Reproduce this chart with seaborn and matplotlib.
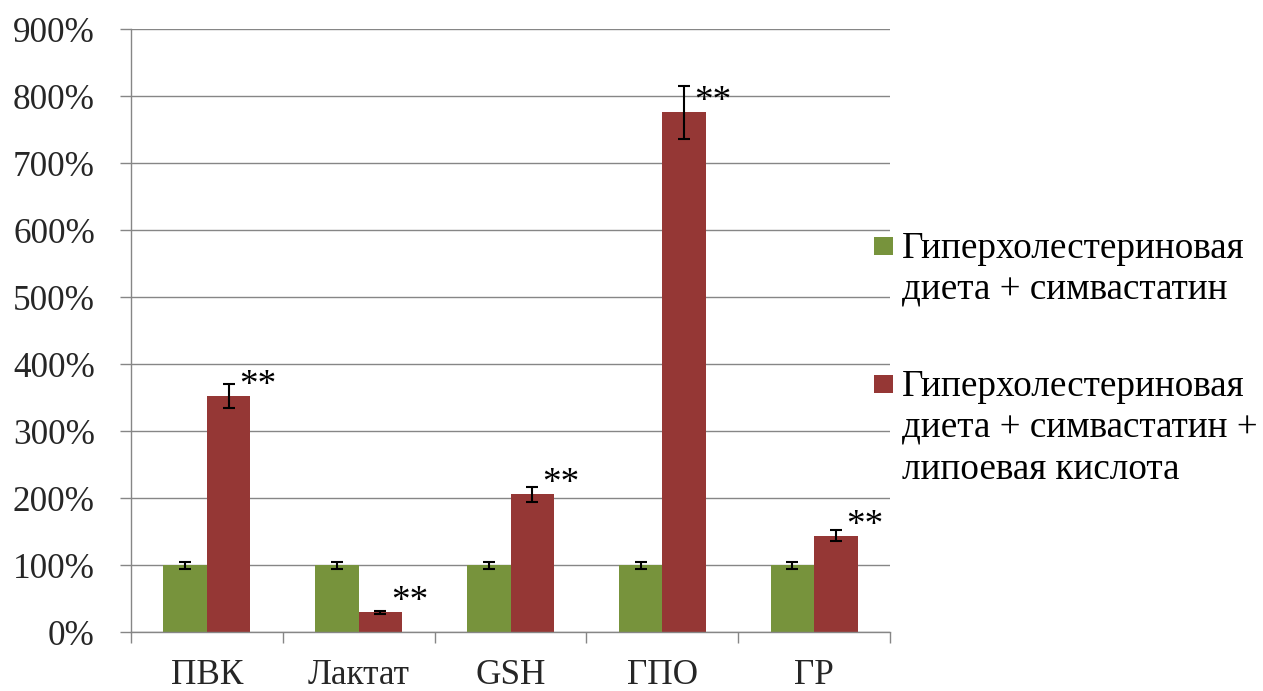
import matplotlib
matplotlib.use("Agg")
import matplotlib.pyplot as plt
from matplotlib.container import BarContainer
from matplotlib.patches import Rectangle
from matplotlib.ticker import FixedLocator, MultipleLocator, PercentFormatter
import numpy as np
import pandas as pd
import seaborn as sns

# Показатели (% от контроля)
categories = ["ПВК", "Лактат", "GSH", "ГПО", "ГР"]
groups = [
    "Гиперхолестериновая диета + симвастатин",
    "Гиперхолестериновая диета + симвастатин + липоевая кислота",
]
simva_values = [100, 100, 100, 100, 100]
simva_errors = [5, 5, 5, 5, 5]
lipoic_values = [353, 30, 206, 776, 144]
lipoic_errors = [18, 2, 11, 39, 8]
significance = ["**", "**", "**", "**", "**"]

legend_lines = [
    ["Гиперхолестериновая", "диета + симвастатин"],
    ["Гиперхолестериновая", "диета + симвастатин +", "липоевая кислота"],
]
colors = ["#77933C", "#953735"]
grid_gray = "#868686"

sns.set_style("white")
plt.rcParams["font.family"] = ["Liberation Serif", "DejaVu Serif"]
TICK_FS = 25.3
TEXT_FS = 26.7

df = pd.DataFrame({
    "Показатель": categories * 2,
    "Группа": [groups[0]] * len(categories) + [groups[1]] * len(categories),
    "Значение": simva_values + lipoic_values,
})

W, H = 1263, 691
fig = plt.figure(figsize=(W / 100, H / 100), dpi=100)
ax = fig.add_axes([131 / W, 1 - 632.3 / H, (890 - 131) / W, (632.3 - 29.3) / H])

sns.barplot(
    data=df, x="Показатель", y="Значение", hue="Группа",
    order=categories, hue_order=groups, palette=colors,
    width=0.574, errorbar=None, saturation=1, legend=False,
    linewidth=0, ax=ax,
)

# Планки погрешностей и отметки значимости по центрам столбцов
errors = [simva_errors, lipoic_errors]
values = [simva_values, lipoic_values]
bar_sets = [c for c in ax.containers if isinstance(c, BarContainer)]
for gi, container in enumerate(bar_sets):
    for ci, bar in enumerate(container.patches):
        xc = bar.get_x() + bar.get_width() / 2
        ax.errorbar(xc, values[gi][ci], yerr=errors[gi][ci], fmt="none",
                    ecolor="black", elinewidth=1.5, capsize=4.5,
                    capthick=1.5, zorder=4)
        if gi == 1:
            ax.annotate(significance[ci], xy=(xc, values[gi][ci]),
                        xytext=(29, 1), textcoords="offset pixels",
                        ha="center", va="baseline", fontsize=TEXT_FS,
                        color="black", zorder=5)

ax.set_ylim(0, 900)
ax.set_xlim(-0.5, len(categories) - 0.5)
ax.yaxis.set_major_locator(MultipleLocator(100))
ax.yaxis.set_major_formatter(PercentFormatter(decimals=0))
ax.xaxis.set_minor_locator(FixedLocator(np.arange(-0.5, len(categories), 1.0)))

ax.grid(axis="y", color=grid_gray, linewidth=1.0)
ax.grid(axis="x", visible=False)
ax.set_axisbelow(True)

for side in ["top", "right"]:
    ax.spines[side].set_visible(False)
for side in ["left", "bottom"]:
    ax.spines[side].set_color(grid_gray)
    ax.spines[side].set_linewidth(1.0)

ax.tick_params(axis="y", which="major", length=8, width=1.0, color=grid_gray,
               pad=18.0, labelsize=TICK_FS, left=True)
ax.tick_params(axis="x", which="major", length=0, pad=19.0, labelsize=TICK_FS)
ax.tick_params(axis="x", which="minor", length=8, width=1.0, color=grid_gray,
               bottom=True)
ax.set_xlabel("")
ax.set_ylabel("")


def fx(px):
    return px / W


def fy(py):
    return 1 - py / H


# Легенда: квадратный маркер у первой строки подписи
entry_tops = [236.7, 374.5]
first_baselines = [257.7, 396.0]
line_step = 41.4
for k, lines in enumerate(legend_lines):
    top = entry_tops[k]
    fig.patches.append(Rectangle((fx(874), fy(top + 18.5)), fx(18.7), 18.5 / H,
                                 transform=fig.transFigure,
                                 facecolor=colors[k], edgecolor="none"))
    for j, line in enumerate(lines):
        fig.text(fx(901.5), fy(first_baselines[k] + j * line_step), line,
                 ha="left", va="baseline", fontsize=TEXT_FS, color="black")

fig.savefig("out.png", dpi=100)
